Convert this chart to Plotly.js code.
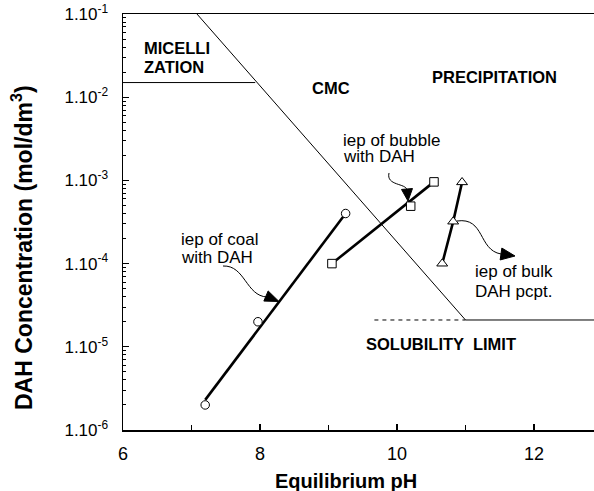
<!DOCTYPE html>
<html><head><meta charset="utf-8">
<script src="https://cdn.plot.ly/plotly-3.0.1.min.js"></script>
<style>html,body{margin:0;padding:0;background:#fff}</style>
</head><body><div id="chart" style="width:594px;height:491px"></div>
<script>
// ---- data ----
const coalPH = [7.2, 7.97, 9.25];
const coalConc = [2e-6, 2e-5, 4e-4];
const coalFitPH = [7.2, 9.25];
const coalFitConc = [2.3e-6, 4e-4];
const bubblePH = [9.05, 10.2, 10.54];
const bubbleConc = [1e-4, 4.9e-4, 9.6e-4];
const bubbleFitPH = [9.05, 10.54];
const bubbleFitConc = [1e-4, 9.6e-4];
const bulkPH = [10.66, 10.82, 10.95];
const bulkConc = [1e-4, 3.2e-4, 9.5e-4];
const cmcPH = [7.08, 11.0];
const cmcConc = [0.1, 2.1e-5];
const micPH = [6, 7.93];
const micConc = [1.5e-2, 1.5e-2];
const solPH = [11.0, 13.2];
const solConc = [2.1e-5, 2.1e-5];
const solDashPH = [9.67, 11.0];
const solDashConc = [2.1e-5, 2.1e-5];
const xTickVals = [6, 8, 10, 12];
const xTickText = ['6', '8', '10', '12'];
const xMinorVals = [7, 9, 11];
const yTickVals = [1e-6, 1e-5, 1e-4, 1e-3, 1e-2, 1e-1];
const yTickText = ['1.10<sup>-6</sup>', '1.10<sup>-5</sup>', '1.10<sup>-4</sup>', '1.10<sup>-3</sup>', '1.10<sup>-2</sup>', '1.10<sup>-1</sup>'];
const yMinorMult = [2, 3, 4, 5, 6, 7, 8, 9];
const yMinorDecades = [1e-6, 1e-5, 1e-4, 1e-3, 1e-2];

// ---- geometry helpers (for decorations only) ----
const W = 594, H = 491, ML = 123, MT = 14, MB = 61, MR = 0;
const PW = W - ML - MR, PH = H - MT - MB;
const xRange = [6, 6 + PW / 68.5];
const px = x => ((x - ML) / PW);
const py = y => ((MT + PH - y) / PH);

const yMinorVals = [];
yMinorDecades.forEach(d => yMinorMult.forEach(m => yMinorVals.push(d * m)));

const FONT = 'Liberation Sans, Arial, Helvetica, sans-serif';
const black = '#000';

const traces = [
  {x: micPH, y: micConc, mode: 'lines', line: {color: black, width: 1}},
  {x: cmcPH, y: cmcConc, mode: 'lines', line: {color: black, width: 1}},
  {x: solPH, y: solConc, mode: 'lines', line: {color: black, width: 1}},
  {x: solDashPH, y: solDashConc, mode: 'lines', line: {color: black, width: 1, dash: '4px,4px'}},
  {x: coalFitPH, y: coalFitConc, mode: 'lines', line: {color: black, width: 2.6}},
  {x: bubbleFitPH, y: bubbleFitConc, mode: 'lines', line: {color: black, width: 2.6}},
  {x: bulkPH, y: bulkConc, mode: 'lines', line: {color: black, width: 2.6}},
  {x: coalPH, y: coalConc, mode: 'markers', marker: {symbol: 'circle', size: 8.5, color: '#fff', line: {color: black, width: 1}}},
  {x: bubblePH, y: bubbleConc, mode: 'markers', marker: {symbol: 'square', size: 8.5, color: '#fff', line: {color: black, width: 1}}},
  {x: bulkPH, y: bulkConc, mode: 'markers', marker: {symbol: 'triangle-up', size: 9.5, color: '#fff', line: {color: black, width: 1}}}
];

function pathFrom(pts) {
  return pts.map(p => {
    const c = p[0];
    const nums = [];
    for (let i = 1; i < p.length; i += 2) nums.push(px(p[i]).toFixed(5) + ',' + py(p[i + 1]).toFixed(5));
    return c + ' ' + nums.join(' ');
  }).join(' ');
}
function head(tx, ty, bx, by, hw) {
  const dx = tx - bx, dy = ty - by, len = Math.hypot(dx, dy);
  const nx = -dy / len, ny = dx / len;
  return pathFrom([['M', tx, ty], ['L', bx + nx * hw, by + ny * hw], ['L', bx - nx * hw, by - ny * hw], ['Z']]);
}
const curve = (d) => ({type: 'path', xref: 'paper', yref: 'paper', path: d, line: {color: black, width: 1}});
const fillHead = (d) => ({type: 'path', xref: 'paper', yref: 'paper', path: d, fillcolor: black, line: {color: black, width: 1}});

const shapes = [
  curve(pathFrom([['M', 223, 266], ['C', 245, 265, 246, 296, 267, 297]])),
  fillHead(head(279, 301.5, 266, 296, 5.5)),
  curve(pathFrom([['M', 389, 173], ['C', 386, 186, 406, 183, 407, 190]])),
  fillHead(head(408, 201, 407, 189, 5.5)),
  curve(pathFrom([['M', 457, 221], ['C', 485, 217, 478, 250, 501, 254]])),
  fillHead(head(515, 256, 501, 254, 6))
];

function lab(text, x, y, size, bold, extra) {
  return Object.assign({
    text: bold ? '<b>' + text + '</b>' : text,
    xref: 'paper', yref: 'paper', x: px(x), y: py(y),
    xanchor: 'left', yanchor: 'middle', showarrow: false,
    font: {family: FONT, size: size, color: black}
  }, extra || {});
}

const annotations = [
  lab('MICELLI', 142, 48.5, 16.5, true),
  lab('ZATION', 142, 67, 16.5, true),
  lab('CMC', 310, 88.5, 16.5, true),
  lab('PRECIPITATION', 430, 77.5, 16.5, true),
  lab('SOLUBILITY  LIMIT', 364, 343.5, 16.5, true),
  lab('iep of bubble', 341, 140, 17, false),
  lab('with DAH', 341, 156, 17, false),
  lab('iep of coal', 179, 239, 17, false),
  lab('with DAH', 179, 257.5, 17, false),
  lab('iep of bulk', 473, 271, 17, false),
  lab('DAH pcpt.', 473, 291, 17, false),
  lab('Equilibrium pH', 345.5, 481, 20, true, {xanchor: 'center'}),
  lab('DAH Concentration (mol/dm<sup>3</sup>)', 22, 248, 23, true, {xanchor: 'center', textangle: -90})
];

const layout = {
  width: W, height: H,
  margin: {l: ML, r: MR, t: MT, b: MB, pad: 0},
  paper_bgcolor: '#fff', plot_bgcolor: '#fff',
  showlegend: false,
  font: {family: FONT, color: black},
  xaxis: {
    range: xRange, showgrid: false, zeroline: false,
    showline: true, linecolor: black, linewidth: 1.5, mirror: true,
    ticks: 'inside', ticklen: 6, tickwidth: 1.2, tickcolor: black,
    tickmode: 'array', tickvals: xTickVals, ticktext: xTickText,
    tickfont: {family: FONT, size: 18, color: black},
    ticklabelstandoff: 7,
    minor: {ticks: 'inside', ticklen: 5, tickwidth: 1.2, tickcolor: black, tickmode: 'array', tickvals: xMinorVals},
    fixedrange: true
  },
  yaxis: {
    type: 'log', range: [-6, -1], showgrid: false, zeroline: false,
    showline: true, linecolor: black, linewidth: 1.5, mirror: false,
    ticks: 'inside', ticklen: 6, tickwidth: 1.2, tickcolor: black,
    tickmode: 'array', tickvals: yTickVals, ticktext: yTickText,
    tickfont: {family: FONT, size: 17, color: black},
    ticklabelstandoff: 10,
    minor: {ticks: 'inside', ticklen: 3, tickwidth: 1, tickcolor: black, tickmode: 'array', tickvals: yMinorVals},
    fixedrange: true
  },
  shapes: shapes,
  annotations: annotations
};

Plotly.newPlot('chart', traces, layout, {displayModeBar: false, staticPlot: true});
</script>
</body></html>
